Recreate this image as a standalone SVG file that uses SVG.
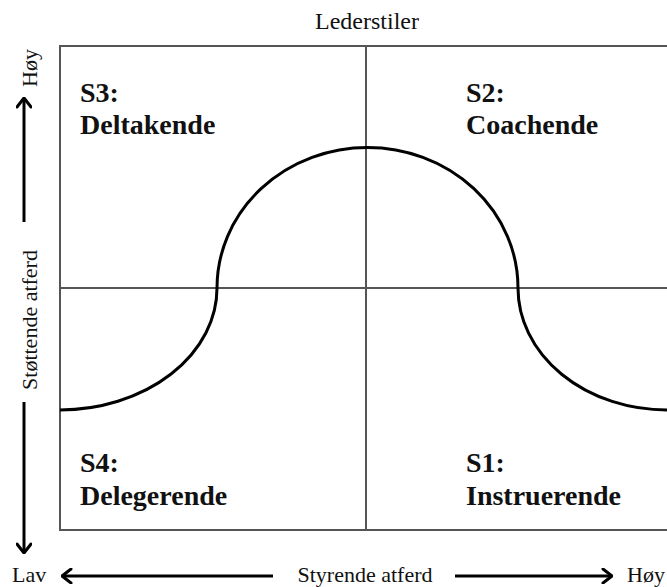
<svg xmlns="http://www.w3.org/2000/svg" width="667" height="587" viewBox="0 0 667 587">
<defs>
<style>
.t{font-family:"Liberation Serif","Times New Roman",serif;fill:#111;}
.r{font-size:22px;}
.b{font-size:28px;font-weight:bold;}
.grid{stroke:#555;stroke-width:2;fill:none;}
.arr{stroke:#000;stroke-width:3;fill:none;}
</style>
<marker id="ah" viewBox="0 0 12 16" refX="11" refY="8" markerWidth="12" markerHeight="16" markerUnits="userSpaceOnUse" orient="auto">
<path d="M2,1 L11,8 L2,15" fill="none" stroke="#000" stroke-width="3" stroke-linejoin="round" stroke-linecap="round"/>
</marker>
</defs>
<rect width="667" height="587" fill="#fff"/>
<g id="frame">
<path class="grid" d="M669,46 H60 V530 H669 M366,46 V530 M60,288 H669"/>
</g>
<g id="curve">
<path d="M60,410 A158,122 0 0 0 217,288 A150,140 0 0 1 518,288 A149,122 0 0 0 667,410" fill="none" stroke="#000" stroke-width="3"/>
</g>
<g id="title"><text class="t r" x="367" y="29" text-anchor="middle" style="font-size:24px">Lederstiler</text></g>
<g id="s3"><text class="t b" x="80" y="102">S3:</text><text class="t b" x="80" y="134">Deltakende</text></g>
<g id="s2"><text class="t b" x="466" y="102">S2:</text><text class="t b" x="466" y="134">Coachende</text></g>
<g id="s4"><text class="t b" x="80" y="472">S4:</text><text class="t b" x="80" y="505">Delegerende</text></g>
<g id="s1"><text class="t b" x="466" y="472">S1:</text><text class="t b" x="466" y="505">Instruerende</text></g>
<g id="yaxis">
<text class="t r" transform="translate(37,68) rotate(-90)" text-anchor="middle">Høy</text>
<text class="t r" transform="translate(37,320) rotate(-90)" text-anchor="middle">Støttende atferd</text>
</g>
<g id="xaxis">
<text class="t r" x="12" y="582">Lav</text>
<text class="t r" x="365" y="582" text-anchor="middle">Styrende atferd</text>
<text class="t r" x="627" y="582">Høy</text>
</g>
<g id="connectors">
<line class="arr" x1="24" y1="222" x2="24" y2="98" marker-end="url(#ah)"/>
<line class="arr" x1="24" y1="402" x2="24" y2="553" marker-end="url(#ah)"/>
<line class="arr" x1="273" y1="576" x2="62" y2="576" marker-end="url(#ah)"/>
<line class="arr" x1="455" y1="576" x2="612" y2="576" marker-end="url(#ah)"/>
</g>
</svg>
